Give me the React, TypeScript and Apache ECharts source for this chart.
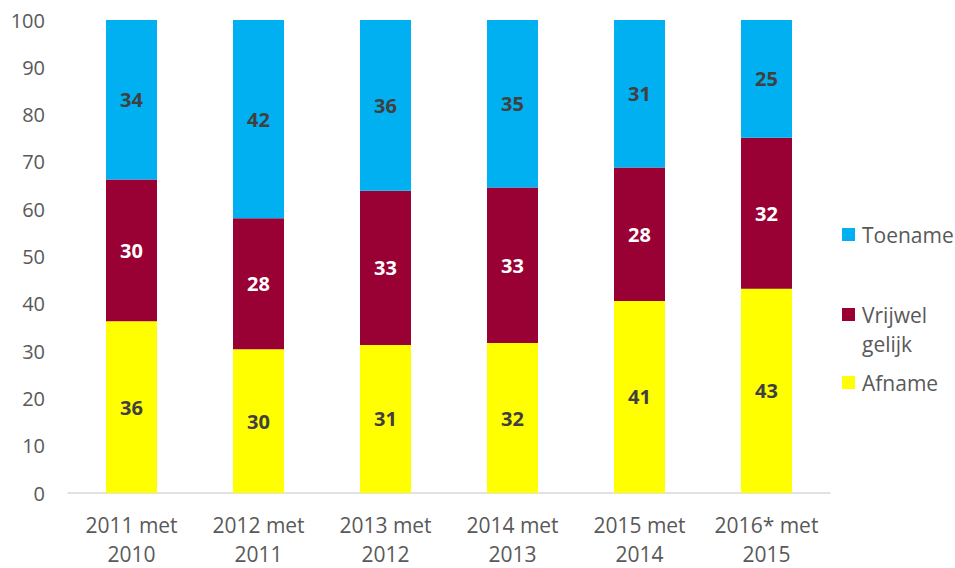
import React, { useEffect, useRef } from "react";
import * as echarts from "echarts";

const categories = [
  "2011 met\n2010",
  "2012 met\n2011",
  "2013 met\n2012",
  "2014 met\n2013",
  "2015 met\n2014",
  "2016* met\n2015",
];
const afname = [36.3, 30.4, 31.3, 31.7, 40.6, 43.2];
const vrijwel = [30.0, 27.7, 32.6, 32.9, 28.2, 31.9];
const toename = [33.7, 41.9, 36.1, 35.4, 31.2, 24.9];
const yTicks = [0, 10, 20, 30, 40, 50, 60, 70, 80, 90, 100];

const FONT = "'Open Sans', Lato, sans-serif";
const GREY = "#595959";

export default function App() {
  const ref = useRef<HTMLDivElement>(null);
  useEffect(() => {
    if (!ref.current) return;
    const chart = echarts.init(ref.current, null, { renderer: "svg" });
    const labelBase = {
      show: true,
      position: "inside",
      fontFamily: FONT,
      fontWeight: "bold",
      fontSize: 20,
      formatter: (p: any) => String(Math.round(p.value)),
    };
    const legendBase = {
      orient: "vertical",
      left: 842,
      padding: 0,
      itemWidth: 13,
      itemHeight: 13,
      itemGap: 10,
      icon: "rect",
      textStyle: { fontFamily: FONT, fontSize: 21, color: GREY, padding: [0, 0, 0, 2] },
      selectedMode: false,
    };
    chart.setOption({
      animation: false,
      textStyle: { fontFamily: FONT },
      grid: { left: 68, right: 125, top: 20, bottom: 73, containLabel: false },
      legend: [
        { ...legendBase, top: 224, data: ["Toename"] },
        { ...legendBase, top: 304, data: ["Vrijwel gelijk"], formatter: () => "Vrijwel" },
        { ...legendBase, top: 372, data: ["Afname"] },
      ],
      graphic: [
        {
          type: "text",
          left: 862,
          top: 333,
          style: { text: "gelijk", fontFamily: FONT, fontSize: 21, fill: GREY },
        },
      ],
      xAxis: {
        type: "category",
        data: categories,
        axisLine: { show: true, lineStyle: { color: "#d9d9d9", width: 1.5 } },
        axisTick: { show: false },
        axisLabel: {
          color: GREY,
          fontFamily: FONT,
          fontSize: 21,
          lineHeight: 29,
          margin: 17,
          interval: 0,
        },
      },
      yAxis: {
        type: "value",
        min: 0,
        max: 100,
        interval: 10,
        axisLine: { show: false },
        axisTick: { show: false },
        splitLine: { show: false },
        axisLabel: {
          color: GREY,
          fontFamily: FONT,
          fontSize: 20,
          margin: 23,
          customValues: yTicks,
        },
      },
      series: [
        {
          name: "Afname",
          type: "bar",
          stack: "total",
          barWidth: 51,
          data: afname,
          itemStyle: { color: "#FFFF00" },
          label: { ...labelBase, color: "#404040" },
        },
        {
          name: "Vrijwel gelijk",
          type: "bar",
          stack: "total",
          barWidth: 51,
          data: vrijwel,
          itemStyle: { color: "#990033" },
          label: { ...labelBase, color: "#FFFFFF" },
        },
        {
          name: "Toename",
          type: "bar",
          stack: "total",
          barWidth: 51,
          data: toename,
          itemStyle: { color: "#00B0F0" },
          label: { ...labelBase, color: "#404040" },
        },
      ],
    });
    return () => chart.dispose();
  }, []);
  return <div ref={ref} style={{ width: 955, height: 568, position: "absolute", left: 0, top: 0 }} />;
}
